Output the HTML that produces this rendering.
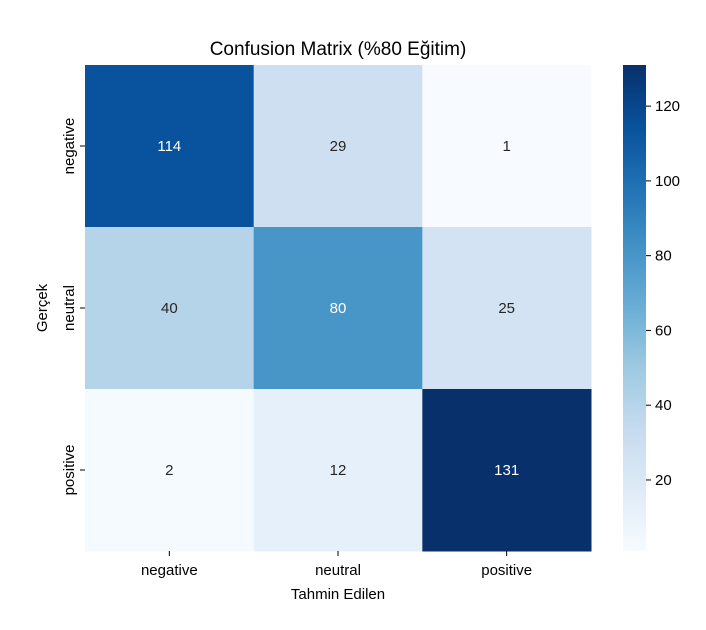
<!DOCTYPE html>
<html><head><meta charset="utf-8"><style>
body{margin:0;background:#fff;font-family:"Liberation Sans","DejaVu Sans",sans-serif}
</style></head><body>
<svg id="chart" width="706" height="625" xmlns="http://www.w3.org/2000/svg">
<defs><linearGradient id="blues" x1="0" y1="1" x2="0" y2="0">
<stop offset="0" stop-color="#f7fbff"/><stop offset="0.125" stop-color="#deebf7"/><stop offset="0.25" stop-color="#c6dbef"/><stop offset="0.375" stop-color="#9ecae1"/><stop offset="0.5" stop-color="#6baed6"/><stop offset="0.625" stop-color="#4292c6"/><stop offset="0.75" stop-color="#2171b5"/><stop offset="0.875" stop-color="#08519c"/><stop offset="1" stop-color="#08306b"/>
</linearGradient></defs>
<text x="338" y="55" text-anchor="middle" font-size="19" fill="#000">Confusion Matrix (%80 Eğitim)</text>
<g id="cells"></g>
<rect x="623" y="65" width="23" height="486" fill="url(#blues)"/>
<g id="cbticks"></g>
<text x="338" y="599" text-anchor="middle" font-size="15" fill="#000">Tahmin Edilen</text>
<text transform="translate(47,308) rotate(-90)" text-anchor="middle" font-size="15" fill="#000">Gerçek</text>
</svg>
<script>
const categories = ["negative","neutral","positive"];
const matrix = [[114,29,1],[40,80,25],[2,12,131]];
const cbTicks = [20,40,60,80,100,120];
const vmin = 1, vmax = 131;
const X0=85,Y0=65,W=506,H=486,CB=623,CBW=23;
const stops=["#f7fbff","#deebf7","#c6dbef","#9ecae1","#6baed6","#4292c6","#2171b5","#08519c","#08306b"];
function hex(h){return [1,3,5].map(i=>parseInt(h.substr(i,2),16));}
function lin(c){c/=255;return c<=0.03928?c/12.92:Math.pow((c+0.055)/1.055,2.4);}
function color(v){let t=(v-vmin)/(vmax-vmin);t=Math.max(0,Math.min(1,t))*8;let i=Math.min(7,Math.floor(t)),f=t-i;
const a=hex(stops[i]),b=hex(stops[i+1]);const c=a.map((x,k)=>Math.round(x+(b[k]-x)*f));
return {s:`rgb(${c})`,l:0.2126*lin(c[0])+0.7152*lin(c[1])+0.0722*lin(c[2])};}
const ns="http://www.w3.org/2000/svg";
function mk(t,at,p){const e=document.createElementNS(ns,t);for(const k in at)e.setAttribute(k,at[k]);p.appendChild(e);return e;}
const g=document.getElementById('cells');const cw=W/categories.length,ch=H/categories.length;
matrix.forEach((row,r)=>row.forEach((v,c)=>{const col=color(v);
const rc=mk('rect',{x:X0+c*cw,y:Y0+r*ch,width:cw+0.5,height:ch+0.5,fill:col.s},g);


const t=mk('text',{x:X0+(c+0.5)*cw,y:Y0+(r+0.5)*ch+5,'text-anchor':'middle','font-size':15,fill:col.l<0.408?'#fff':'#262626'},g);t.textContent=v;


}));
categories.forEach((cat,i)=>{const x=X0+(i+0.5)*cw;
mk('line',{x1:x,x2:x,y1:Y0+H,y2:Y0+H+5,stroke:'#000'},g);
const t=mk('text',{x:x,y:Y0+H+24,'text-anchor':'middle','font-size':15},g);t.textContent=cat;


const y=Y0+(i+0.5)*ch;
mk('line',{x1:X0-5,x2:X0,y1:y,y2:y,stroke:'#000'},g);
const u=mk('text',{transform:`translate(${X0-11},${y}) rotate(-90)`,'text-anchor':'middle','font-size':15},g);u.textContent=cat;


});
const cg=document.getElementById('cbticks');
cbTicks.forEach(v=>{const y=Y0+H-(v-vmin)/(vmax-vmin)*H;
mk('line',{x1:CB+CBW,x2:CB+CBW+5,y1:y,y2:y,stroke:'#000'},cg);
const t=mk('text',{x:CB+CBW+9,y:y+5,'font-size':15},cg);t.textContent=v;


});
</script>
</body></html>
